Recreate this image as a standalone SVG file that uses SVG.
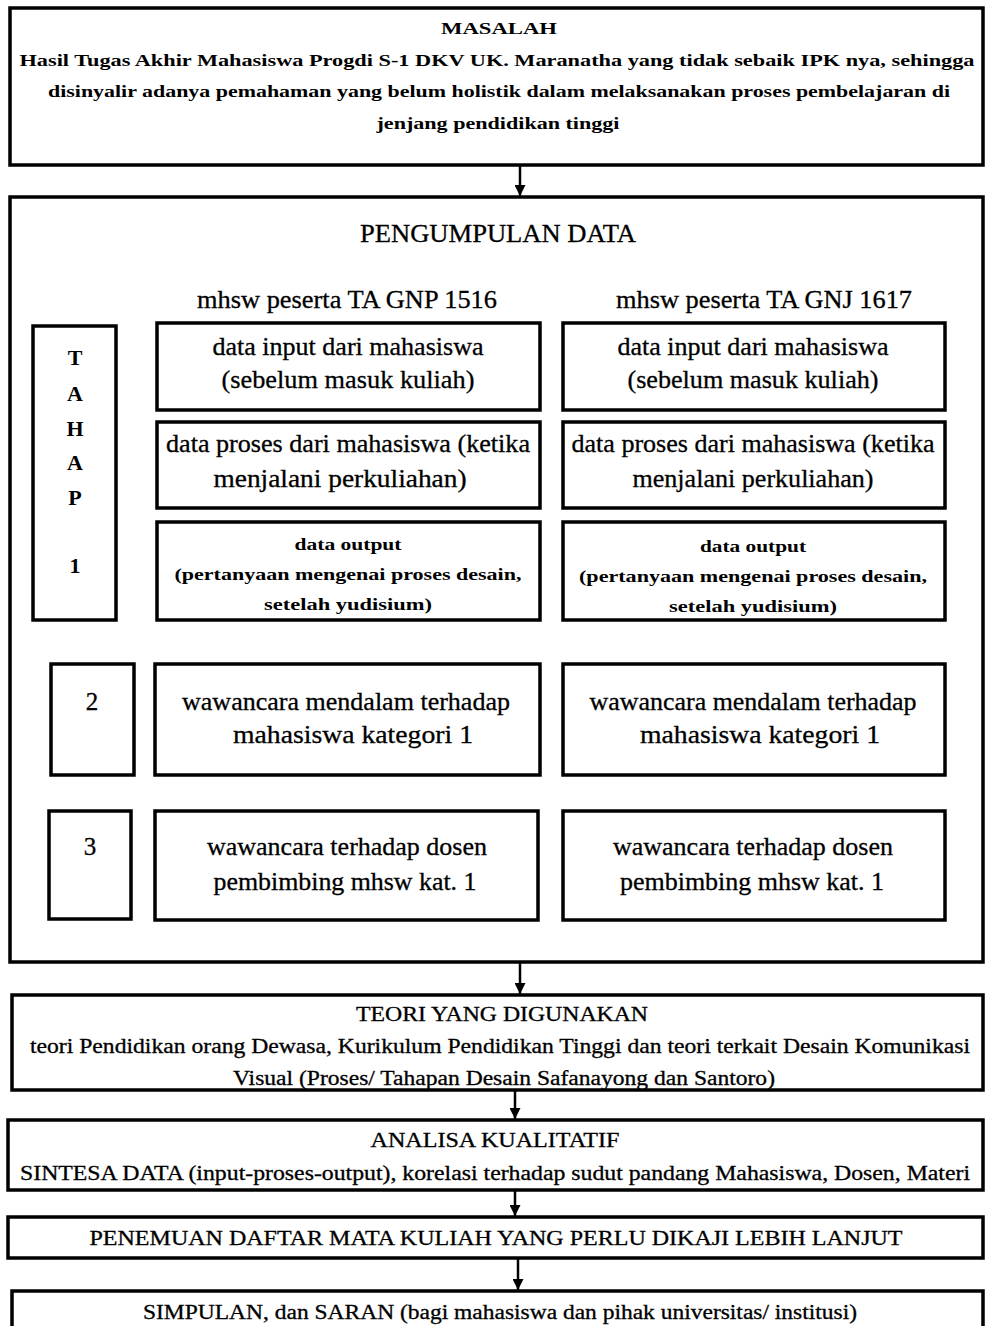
<svg xmlns="http://www.w3.org/2000/svg" width="985" height="1326" viewBox="0 0 985 1326">
<defs>
<style>
.box{fill:#fff;stroke:#000;stroke-width:3.5}
text{font-family:'Liberation Serif', serif;fill:#000;text-anchor:middle;stroke:#000;stroke-width:0.3}
.s{font-size:17px;font-weight:bold;stroke-width:0}
.m{font-size:20px}
.l{font-size:25px}
.b{font-size:22px;font-weight:bold;stroke-width:0}
.c{stroke:#000;stroke-width:2.5;fill:none}
</style>
<marker id="ah" viewBox="0 0 10 10" refX="10" refY="5" markerWidth="4.4" markerHeight="4.4" orient="auto" markerUnits="strokeWidth">
<path d="M0,0 L10,5 L0,10 Z" fill="#000"/>
</marker>
</defs>
<rect width="985" height="1326" fill="#fff"/>

<g id="connectors">
<line class="c" x1="520" y1="166" x2="520" y2="196" marker-end="url(#ah)"/>
<line class="c" x1="520" y1="963" x2="520" y2="994" marker-end="url(#ah)"/>
<line class="c" x1="515" y1="1091" x2="515" y2="1119" marker-end="url(#ah)"/>
<line class="c" x1="515" y1="1190" x2="515" y2="1216" marker-end="url(#ah)"/>
<line class="c" x1="518" y1="1259" x2="518" y2="1290" marker-end="url(#ah)"/>
</g>

<g id="masalah">
<rect class="box" x="10" y="8" width="973" height="157"/>
<text class="s" x="499" y="34" textLength="116" lengthAdjust="spacingAndGlyphs">MASALAH</text>
<text class="s" x="497" y="66" textLength="955" lengthAdjust="spacingAndGlyphs">Hasil Tugas Akhir Mahasiswa Progdi S-1 DKV UK. Maranatha yang tidak sebaik IPK nya, sehingga</text>
<text class="s" x="499" y="97" textLength="902" lengthAdjust="spacingAndGlyphs">disinyalir adanya pemahaman yang belum holistik dalam melaksanakan proses pembelajaran di</text>
<text class="s" x="498" y="129" textLength="243" lengthAdjust="spacingAndGlyphs">jenjang pendidikan tinggi</text>
</g>

<g id="pengumpulan">
<rect class="box" x="10" y="197" width="973" height="765"/>
<text class="l" x="498" y="242" textLength="276" lengthAdjust="spacingAndGlyphs">PENGUMPULAN DATA</text>
<text class="l" x="347" y="308" textLength="300" lengthAdjust="spacingAndGlyphs">mhsw peserta TA GNP 1516</text>
<text class="l" x="764" y="308" textLength="296" lengthAdjust="spacingAndGlyphs">mhsw peserta TA GNJ 1617</text>
</g>

<g id="tahap1">
<rect class="box" x="33" y="326" width="83" height="294"/>
<text class="b" x="75" y="365">T</text>
<text class="b" x="75" y="401">A</text>
<text class="b" x="75" y="436">H</text>
<text class="b" x="75" y="470">A</text>
<text class="b" x="75" y="505">P</text>
<text class="b" x="75" y="573">1</text>
</g>

<g id="input-left">
<rect class="box" x="157" y="323" width="383" height="87"/>
<text class="l" x="348" y="355" textLength="271" lengthAdjust="spacingAndGlyphs">data input dari mahasiswa</text>
<text class="l" x="348" y="388" textLength="253" lengthAdjust="spacingAndGlyphs">(sebelum masuk kuliah)</text>
</g>
<g id="input-right">
<rect class="box" x="563" y="323" width="382" height="87"/>
<text class="l" x="753" y="355" textLength="271" lengthAdjust="spacingAndGlyphs">data input dari mahasiswa</text>
<text class="l" x="753" y="388" textLength="251" lengthAdjust="spacingAndGlyphs">(sebelum masuk kuliah)</text>
</g>

<g id="proses-left">
<rect class="box" x="157" y="422" width="383" height="86"/>
<text class="l" x="348" y="452" textLength="364" lengthAdjust="spacingAndGlyphs">data proses dari mahasiswa (ketika</text>
<text class="l" x="340" y="487" textLength="253" lengthAdjust="spacingAndGlyphs">menjalani perkuliahan)</text>
</g>
<g id="proses-right">
<rect class="box" x="563" y="422" width="382" height="86"/>
<text class="l" x="753" y="452" textLength="363" lengthAdjust="spacingAndGlyphs">data proses dari mahasiswa (ketika</text>
<text class="l" x="753" y="487" textLength="241" lengthAdjust="spacingAndGlyphs">menjalani perkuliahan)</text>
</g>

<g id="output-left">
<rect class="box" x="157" y="522" width="383" height="98"/>
<text class="s" x="348" y="550" textLength="107" lengthAdjust="spacingAndGlyphs">data output</text>
<text class="s" x="348" y="580" textLength="347" lengthAdjust="spacingAndGlyphs">(pertanyaan mengenai proses desain,</text>
<text class="s" x="348" y="610" textLength="168" lengthAdjust="spacingAndGlyphs">setelah yudisium)</text>
</g>
<g id="output-right">
<rect class="box" x="563" y="522" width="382" height="98"/>
<text class="s" x="753" y="552" textLength="106" lengthAdjust="spacingAndGlyphs">data output</text>
<text class="s" x="753" y="582" textLength="348" lengthAdjust="spacingAndGlyphs">(pertanyaan mengenai proses desain,</text>
<text class="s" x="753" y="612" textLength="168" lengthAdjust="spacingAndGlyphs">setelah yudisium)</text>
</g>

<g id="tahap2">
<rect class="box" x="51" y="664" width="83" height="111"/>
<text class="l" x="92" y="710">2</text>
</g>
<g id="wawancara1-left">
<rect class="box" x="155" y="664" width="385" height="111"/>
<text class="l" x="346" y="710" textLength="328" lengthAdjust="spacingAndGlyphs">wawancara mendalam terhadap</text>
<text class="l" x="353" y="743" textLength="240" lengthAdjust="spacingAndGlyphs">mahasiswa kategori 1</text>
</g>
<g id="wawancara1-right">
<rect class="box" x="563" y="664" width="382" height="111"/>
<text class="l" x="753" y="710" textLength="327" lengthAdjust="spacingAndGlyphs">wawancara mendalam terhadap</text>
<text class="l" x="760" y="743" textLength="240" lengthAdjust="spacingAndGlyphs">mahasiswa kategori 1</text>
</g>

<g id="tahap3">
<rect class="box" x="49" y="811" width="82" height="108"/>
<text class="l" x="90" y="855">3</text>
</g>
<g id="wawancara2-left">
<rect class="box" x="155" y="811" width="383" height="109"/>
<text class="l" x="347" y="855" textLength="280" lengthAdjust="spacingAndGlyphs">wawancara terhadap dosen</text>
<text class="l" x="345" y="890" textLength="263" lengthAdjust="spacingAndGlyphs">pembimbing mhsw kat. 1</text>
</g>
<g id="wawancara2-right">
<rect class="box" x="563" y="811" width="382" height="109"/>
<text class="l" x="753" y="855" textLength="280" lengthAdjust="spacingAndGlyphs">wawancara terhadap dosen</text>
<text class="l" x="752" y="890" textLength="264" lengthAdjust="spacingAndGlyphs">pembimbing mhsw kat. 1</text>
</g>

<g id="teori">
<rect class="box" x="12" y="995" width="971" height="95"/>
<text class="m" x="502" y="1021" textLength="292" lengthAdjust="spacingAndGlyphs">TEORI YANG DIGUNAKAN</text>
<text class="m" x="500" y="1053" textLength="940" lengthAdjust="spacingAndGlyphs">teori Pendidikan orang Dewasa, Kurikulum Pendidikan Tinggi dan teori terkait Desain Komunikasi</text>
<text class="m" x="504" y="1085" textLength="542" lengthAdjust="spacingAndGlyphs">Visual (Proses/ Tahapan Desain Safanayong dan Santoro)</text>
</g>

<g id="analisa">
<rect class="box" x="8" y="1120" width="975" height="70"/>
<text class="m" x="495" y="1147" textLength="249" lengthAdjust="spacingAndGlyphs">ANALISA KUALITATIF</text>
<text class="m" x="495" y="1180" textLength="950" lengthAdjust="spacingAndGlyphs">SINTESA DATA (input-proses-output), korelasi terhadap sudut pandang Mahasiswa, Dosen, Materi</text>
</g>

<g id="penemuan">
<rect class="box" x="8" y="1217" width="975" height="41"/>
<text class="m" x="496" y="1245" textLength="813" lengthAdjust="spacingAndGlyphs">PENEMUAN DAFTAR MATA KULIAH YANG PERLU DIKAJI LEBIH LANJUT</text>
</g>

<g id="simpulan">
<rect class="box" x="12" y="1291" width="971" height="50"/>
<text class="m" x="500" y="1319" textLength="714" lengthAdjust="spacingAndGlyphs">SIMPULAN, dan SARAN (bagi mahasiswa dan pihak universitas/ institusi)</text>
</g>
</svg>
